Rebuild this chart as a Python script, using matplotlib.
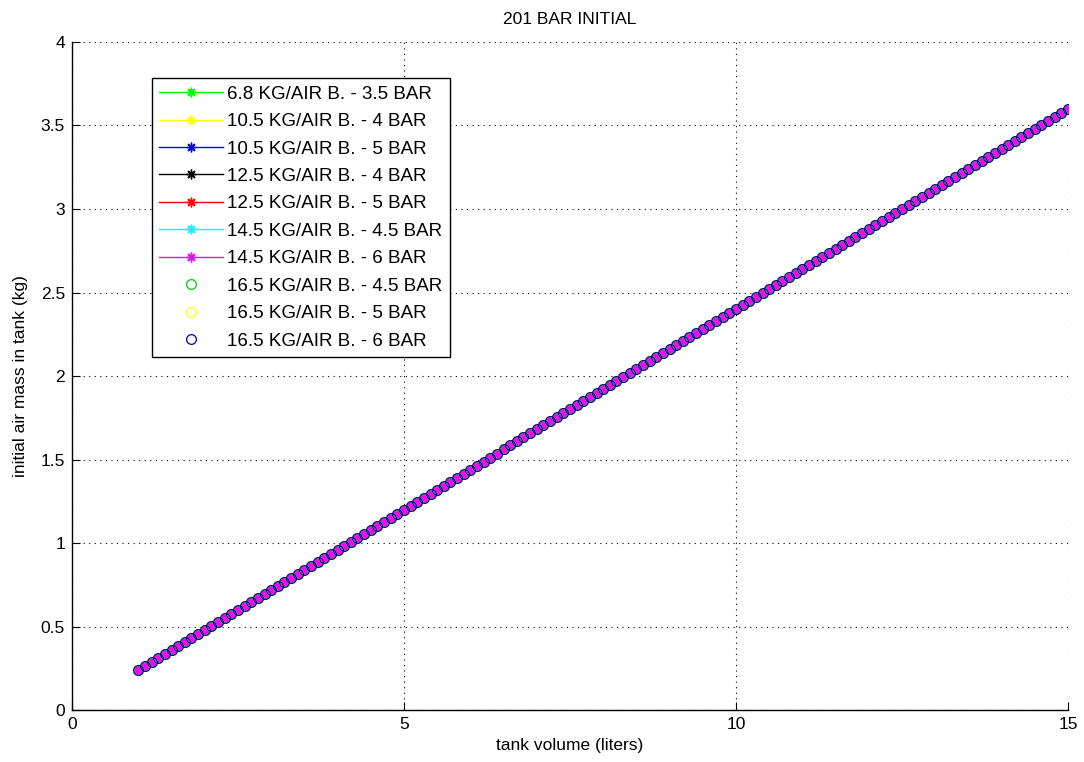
import numpy as np
import matplotlib
matplotlib.use("Agg")
import matplotlib.pyplot as plt

plt.rcParams['font.family'] = ['Liberation Sans', 'DejaVu Sans']

# Tank volume in liters and initial air mass (kg) at 201 bar
volume = np.round(np.arange(1.0, 15.0001, 0.1), 1)
mass_per_liter = 0.24
air_mass = volume * mass_per_liter

labels = [
    "6.8 KG/AIR B. - 3.5 BAR",
    "10.5 KG/AIR B. - 4 BAR",
    "10.5 KG/AIR B. - 5 BAR",
    "12.5 KG/AIR B. - 4 BAR",
    "12.5 KG/AIR B. - 5 BAR",
    "14.5 KG/AIR B. - 4.5 BAR",
    "14.5 KG/AIR B. - 6 BAR",
    "16.5 KG/AIR B. - 4.5 BAR",
    "16.5 KG/AIR B. - 5 BAR",
    "16.5 KG/AIR B. - 6 BAR",
]
colors = ["#00ff00", "#ffff00", "#0000ff", "#000000", "#ff0000",
          "#00ffff", "#ff00ff", "#00cc00", "#ffff00", "#0000aa"]
styles = ["-*"] * 7 + ["o"] * 3

asterisk = (8, 2, 0)

fig = plt.figure(figsize=(10.84, 7.62), dpi=100)
ax = fig.add_axes([0.0664, 0.0682, 0.9188, 0.8767])

for lab, col, st in zip(labels, colors, styles):
    if st == "o":
        ax.plot(volume, air_mass, linestyle="none", marker="o", markersize=7,
                markerfacecolor="none", markeredgecolor=col, markeredgewidth=0.9,
                label=lab)
    else:
        ax.plot(volume, air_mass, linestyle="-", color=col, linewidth=1,
                marker=asterisk, markersize=7, markeredgewidth=1, label=lab)

ax.set_xlim(0, 15)
ax.set_ylim(0, 4)
ax.set_xticks([0, 5, 10, 15])
ax.set_yticks(np.arange(0, 4.01, 0.5))
ax.set_yticklabels(["0", "0.5", "1", "1.5", "2", "2.5", "3", "3.5", "4"])
ax.grid(True, linestyle=(0, (1, 4)), color="black", linewidth=0.8)
for side in ("top", "right"):
    ax.spines[side].set_visible(False)
for side in ("left", "bottom"):
    ax.spines[side].set_linewidth(1.0)
ax.tick_params(direction="in", length=6, labelsize=12.5, pad=5)

ax.set_title("201 BAR INITIAL", fontsize=12.5, pad=13)
ax.set_xlabel("tank volume (liters)", fontsize=12.5, labelpad=4)
ax.set_ylabel("initial air mass in tank (kg)", fontsize=12.5, labelpad=9)

leg = ax.legend(loc="upper left", bbox_to_anchor=(0.0803, 0.946),
                borderaxespad=0, fontsize=13.5, handlelength=3.4,
                handletextpad=0.2, labelspacing=0.55, fancybox=False,
                framealpha=1, edgecolor="black", borderpad=0.4)
leg.get_frame().set_linewidth(1.0)

fig.savefig("out.png", dpi=100)
